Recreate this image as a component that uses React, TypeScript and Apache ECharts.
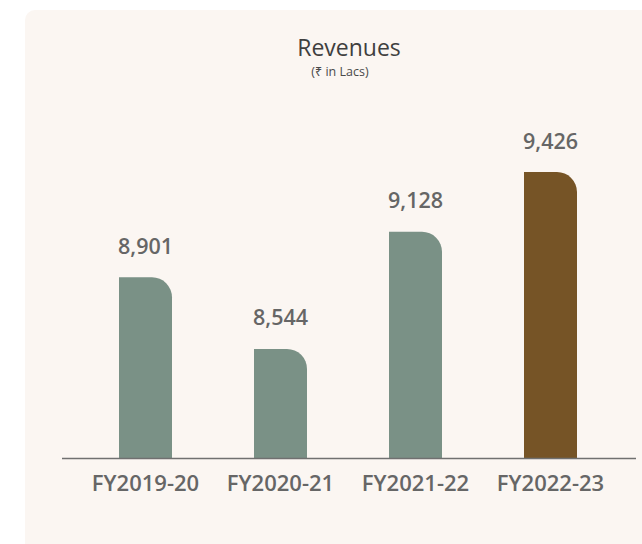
import React, { useEffect, useRef } from "react";
import * as echarts from "echarts";

const categories = ["FY2019-20", "FY2020-21", "FY2021-22", "FY2022-23"];
const revenues = [8901, 8544, 9128, 9426];
const barColors = ["#7a9186", "#7a9186", "#7a9186", "#765426"];
const titleText = "Revenues";
const subtitleText = "(₹ in Lacs)";

export default function App() {
  const ref = useRef<HTMLDivElement>(null);
  useEffect(() => {
    document.body.style.margin = "0";
    const chart = echarts.init(ref.current!, null, { renderer: "svg" });
    const font = "'Open Sans', 'Noto Sans', sans-serif";
    chart.setOption({
      animation: false,
      backgroundColor: "#ffffff",
      graphic: [
        {
          type: "rect",
          z: -10,
          shape: { x: 25, y: 10, width: 640, height: 560, r: 10 },
          style: { fill: "#fbf6f2" },
        },
        {
          type: "line",
          z: 10,
          shape: { x1: 62, y1: 458.5, x2: 636, y2: 458.5 },
          style: { stroke: "#707070", lineWidth: 1.3 },
        },
        {
          type: "text",
          style: {
            text: titleText,
            x: 349,
            y: 47,
            align: "center",
            verticalAlign: "middle",
            font: `400 23px ${font}`,
            fill: "#3f3f3f",
          },
        },
        {
          type: "text",
          style: {
            text: subtitleText,
            x: 340,
            y: 71,
            align: "center",
            verticalAlign: "middle",
            font: `400 12.5px ${font}`,
            fill: "#4a4a4a",
          },
        },
      ],
      grid: { left: 78, width: 540, top: 57, height: 401 },
      xAxis: {
        type: "category",
        data: categories,
        axisLine: { show: false },
        axisTick: { show: false },
        axisLabel: {
          interval: 0,
          hideOverlap: false,
          margin: 13,
          fontFamily: font,
          fontSize: 22,
          fontWeight: 600,
          color: "#666666",
        },
      },
      yAxis: {
        type: "value",
        min: 8000,
        max: 10000,
        show: false,
        splitLine: { show: false },
      },
      series: [
        {
          type: "bar",
          barWidth: 53,
          data: revenues.map((v, i) => ({
            value: v,
            itemStyle: { color: barColors[i], borderRadius: [0, 20, 0, 0] },
          })),
          label: {
            show: true,
            position: "top",
            distance: 21,
            fontFamily: font,
            fontSize: 21.5,
            fontWeight: 600,
            color: "#666666",
            formatter: (p: any) => Number(p.value).toLocaleString("en-US"),
          },
        },
      ],
    });
    return () => chart.dispose();
  }, []);
  return <div ref={ref} style={{ width: 642, height: 544 }} />;
}
